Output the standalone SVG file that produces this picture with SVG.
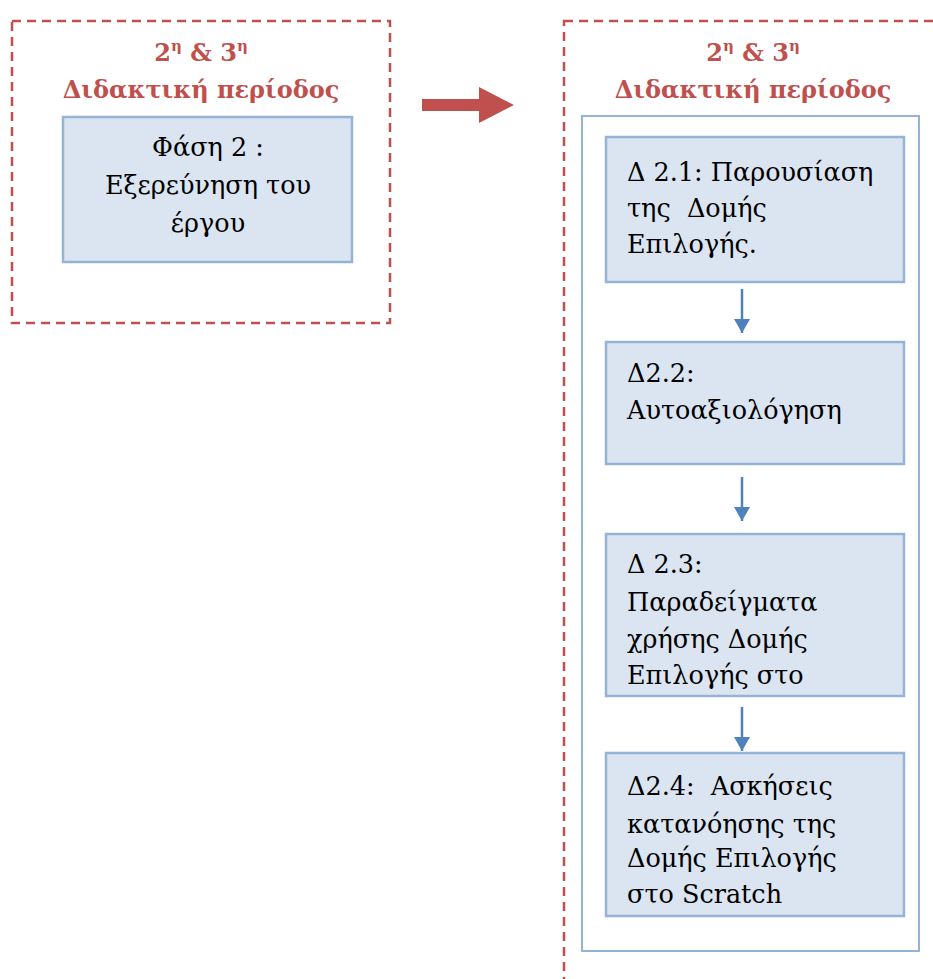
<svg xmlns="http://www.w3.org/2000/svg" width="933" height="979" viewBox="0 0 933 979">
  <defs>
    <marker id="down" markerWidth="14" markerHeight="16" refX="14" refY="8" orient="auto" markerUnits="userSpaceOnUse" viewBox="0 0 14 16">
      <path d="M0,0 L14,8 L0,16 Z" fill="#4f81bd"/>
    </marker>
  </defs>
  <style>
    .period { fill: none; stroke: #c0504d; stroke-width: 2.5; stroke-dasharray: 9 6; }
    text { font-family: 'DejaVu Serif', serif; }
    .title { font-weight: bold; font-size: 24px; fill: #c0504d; text-anchor: middle; }
    .sup { font-size: 15px; }
    .frame { fill: #ffffff; stroke: #95b3d7; stroke-width: 2; }
    .step { fill: #dbe5f1; stroke: #95b3d7; stroke-width: 2.5; }
    .label { font-size: 25.5px; fill: #000000; }
    .center { text-anchor: middle; }
    .link { stroke: #4f81bd; stroke-width: 2.5; fill: none; }
  </style>

  <rect width="933" height="979" fill="#ffffff"/>

  <!-- left period: phase 2 -->
  <g id="period-left">
    <rect class="period" x="12" y="21" width="378" height="302"/>
    <text class="title" x="201" y="61">2<tspan class="sup" dy="-10">η</tspan><tspan dy="10"> &amp; 3</tspan><tspan class="sup" dy="-10">η</tspan></text>
    <text class="title" x="201" y="98">Διδακτική περίοδος</text>
  </g>
  <g id="phase2">
    <rect class="step" x="63" y="117" width="289" height="145"/>
    <text class="label center" x="208" y="156">Φάση 2 :</text>
    <text class="label center" x="208" y="194">Εξερεύνηση του</text>
    <text class="label center" x="208" y="232">έργου</text>
  </g>

  <!-- right period: activities -->
  <g id="period-right">
    <rect class="period" x="564" y="21" width="420" height="1000"/>
    <text class="title" x="753" y="61">2<tspan class="sup" dy="-10">η</tspan><tspan dy="10"> &amp; 3</tspan><tspan class="sup" dy="-10">η</tspan></text>
    <text class="title" x="753" y="98">Διδακτική περίοδος</text>
    <rect class="frame" x="582" y="116" width="337" height="835"/>
  </g>

  <g id="d21">
    <rect class="step" x="606" y="137" width="298" height="145"/>
    <text class="label" x="627" y="181">Δ 2.1: Παρουσίαση</text>
    <text class="label" x="627" y="217" xml:space="preserve">της  Δομής</text>
    <text class="label" x="627" y="253">Επιλογής.</text>
  </g>
  <g id="d22">
    <rect class="step" x="606" y="342" width="298" height="122"/>
    <text class="label" x="627" y="382">Δ2.2:</text>
    <text class="label" x="627" y="419">Αυτοαξιολόγηση</text>
  </g>
  <g id="d23">
    <rect class="step" x="606" y="534" width="298" height="162"/>
    <text class="label" x="627" y="573">Δ 2.3:</text>
    <text class="label" x="627" y="611">Παραδείγματα</text>
    <text class="label" x="627" y="648">χρήσης Δομής</text>
    <text class="label" x="627" y="684">Επιλογής στο</text>
  </g>
  <g id="d24">
    <rect class="step" x="606" y="753" width="298" height="163"/>
    <text class="label" x="627" y="795" xml:space="preserve">Δ2.4:  Ασκήσεις</text>
    <text class="label" x="627" y="833">κατανόησης της</text>
    <text class="label" x="627" y="867">Δομής Επιλογής</text>
    <text class="label" x="627" y="903">στο Scratch</text>
  </g>

  <!-- connectors -->
  <g id="connectors">
    <path d="M422,99 H479 V87 L514,105 L479,123 V111 H422 Z" fill="#c0504d"/>
    <line class="link" x1="742" y1="289" x2="742" y2="333" marker-end="url(#down)"/>
    <line class="link" x1="742" y1="477" x2="742" y2="521" marker-end="url(#down)"/>
    <line class="link" x1="742" y1="707" x2="742" y2="751" marker-end="url(#down)"/>
  </g>
</svg>
